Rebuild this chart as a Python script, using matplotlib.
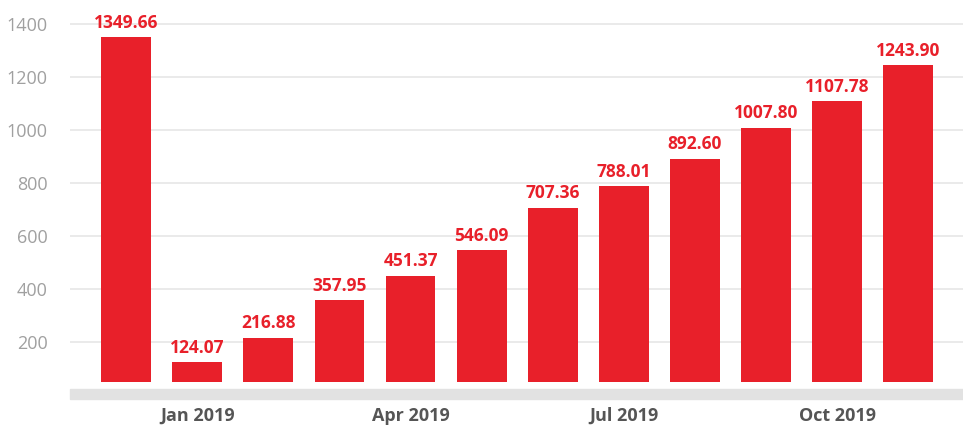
import matplotlib.pyplot as plt
from matplotlib.patches import Rectangle

months = ['Dec 2018', 'Jan 2019', 'Feb 2019', 'Mar 2019', 'Apr 2019', 'May 2019',
          'Jun 2019', 'Jul 2019', 'Aug 2019', 'Sep 2019', 'Oct 2019', 'Nov 2019']
values = [1349.66, 124.07, 216.88, 357.95, 451.37, 546.09,
          707.36, 788.01, 892.60, 1007.80, 1107.78, 1243.90]
y_ticks = [200, 400, 600, 800, 1000, 1200, 1400]
shown_months = ['Jan 2019', 'Apr 2019', 'Jul 2019', 'Oct 2019']

RED = '#e8202a'

plt.rcParams['font.family'] = ['Open Sans', 'DejaVu Sans']

fig = plt.figure(figsize=(9.63, 4.28), dpi=100)
ax = fig.add_axes([70 / 963, 46 / 428, 893 / 963, 374 / 428])

x = list(range(len(months)))
ax.bar(x, values, width=0.7, color=RED, zorder=3)

for xi, v in zip(x, values):
    ax.annotate(f'{v:.2f}', (xi, v), xytext=(0, 4), textcoords='offset points',
                ha='center', va='bottom', color=RED, fontsize=12.5, fontweight='bold')

ax.set_xlim(-0.79, 11.77)
ax.set_ylim(50, 1460)
ax.set_yticks(y_ticks)
ax.set_yticklabels([str(t) for t in y_ticks])
ax.grid(axis='y', color='#e6e6e6', linewidth=1.2, zorder=0)
ax.tick_params(axis='y', length=0, pad=16, labelsize=13, labelcolor='#a0a0a0')

ax.set_xticks([months.index(m) for m in shown_months])
ax.set_xticklabels(shown_months, fontsize=13, fontweight='bold', color='#555555')
ax.tick_params(axis='x', length=0, pad=18)

for s in ax.spines.values():
    s.set_visible(False)

# grey baseline band under the bars
fig.patches.append(Rectangle((70 / 963, 29 / 428), 893 / 963, 10 / 428,
                             transform=fig.transFigure, color='#e2e2e2', zorder=0))

fig.savefig('out.png', dpi=100)
